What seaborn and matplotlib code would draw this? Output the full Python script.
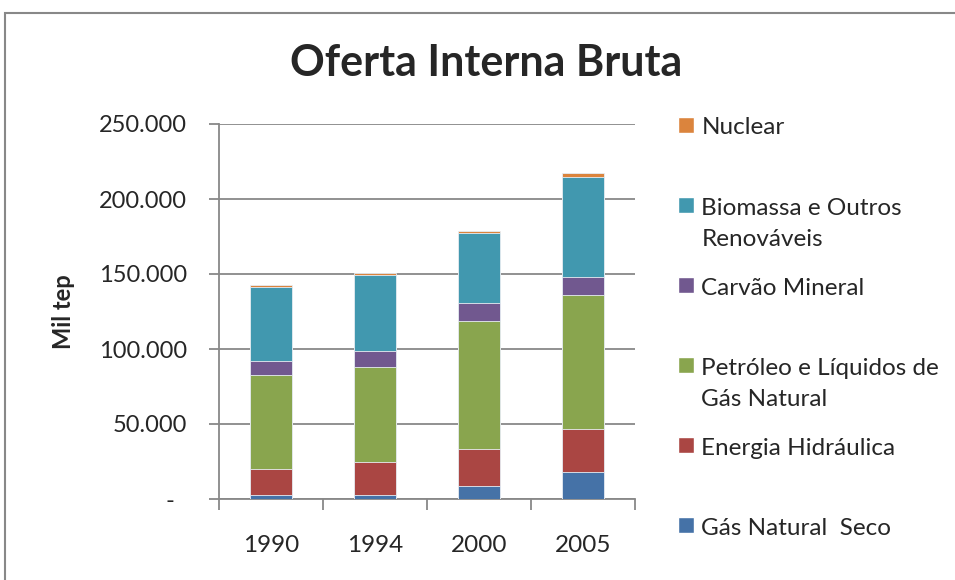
import matplotlib
matplotlib.use("Agg")
import matplotlib.pyplot as plt
import seaborn as sns
from matplotlib.patches import Rectangle, Patch
from matplotlib.legend_handler import HandlerPatch
from matplotlib.ticker import FuncFormatter

# Data (mil tep)
years = ["1990", "1994", "2000", "2005"]
gas_natural_seco = [3000, 3000, 8400, 17700]
energia_hidraulica = [17200, 21400, 25100, 29200]
petroleo_lgn = [62500, 63800, 85200, 89300]
carvao_mineral = [9000, 10400, 12000, 11800]
biomassa = [49600, 50500, 46400, 66400]
nuclear = [1400, 1600, 1600, 2700]

series_names = ["Gás Natural  Seco", "Energia Hidráulica",
                "Petróleo e Líquidos de\nGás Natural", "Carvão Mineral",
                "Biomassa e Outros\nRenováveis", "Nuclear"]
series_values = [gas_natural_seco, energia_hidraulica, petroleo_lgn,
                 carvao_mineral, biomassa, nuclear]
series_colors = ["#4572A7", "#AA4643", "#89A54E", "#71588F", "#4198AF", "#DB843D"]

sns.set_style("white")
plt.rcParams["font.family"] = ["Lato", "DejaVu Sans"]

fig = plt.figure(figsize=(9.55, 5.8), dpi=100)
ax = fig.add_axes([219 / 955, 81 / 580, (635 - 219) / 955, (499 - 124) / 580])

# cumulative totals, drawn from the top layer down so each covers the one above
cum = []
running = [0] * len(years)
for vals in series_values:
    running = [a + b for a, b in zip(running, vals)]
    cum.append(running)

for name, tops, col in reversed(list(zip(series_names, cum, series_colors))):
    sns.barplot(x=years, y=tops, color=col, saturation=1, width=0.4,
                edgecolor="#e8eef4", linewidth=0.6, ax=ax, zorder=3)

grey = "#888888"
ax.set_ylim(0, 250000)
ax.set_xlim(-0.5, 3.5)
ax.set_yticks(range(0, 250001, 50000))
ax.yaxis.set_major_formatter(FuncFormatter(
    lambda v, p: "-  " if v == 0 else f"{v:,.0f}".replace(",", ".")))
ax.yaxis.grid(True, color=grey, lw=1.3)
ax.set_axisbelow(True)
for s in ["top", "right"]:
    ax.spines[s].set_visible(False)
for s in ["left", "bottom"]:
    ax.spines[s].set_color(grey)
    ax.spines[s].set_linewidth(1.3)

ax.tick_params(axis="y", direction="out", length=7, width=1.3, color=grey,
               pad=16, labelsize=17, left=True)
ax.set_xticks([-0.5, 0.5, 1.5, 2.5, 3.5], minor=True)
ax.tick_params(axis="x", which="minor", direction="out", length=8, width=1.3,
               color=grey, bottom=True)
ax.tick_params(axis="x", which="major", length=0, pad=26, labelsize=17.5)
ax.set_xlabel("")
ax.set_ylabel("Mil tep", fontsize=17, fontweight="bold", labelpad=17)

fig.text(0.509, 0.892, "Oferta Interna Bruta", ha="center", va="center",
         fontsize=31, fontweight="bold")


# legend: square marker next to the first line of each label
def top_square(legend, orig_handle, xdescent, ydescent, width, height, fontsize):
    sq = width
    return Rectangle((-xdescent, 19.4 - sq / 2), sq, sq)


handles = [Patch(facecolor=c) for c in reversed(series_colors)]
labels = [lb if "\n" in lb else lb + "\n " for lb in reversed(series_names)]
leg = ax.legend(handles, labels, loc="upper left", bbox_to_anchor=(678 / 955, 1 - 117.5 / 580),
                bbox_transform=fig.transFigure, frameon=False, fontsize=17.5,
                handlelength=0.66, handleheight=2.2, handletextpad=0.3,
                labelspacing=1.13, borderpad=0, borderaxespad=0,
                handler_map={Patch: HandlerPatch(patch_func=top_square)})
for t in leg.get_texts():
    t.set_linespacing(1.62)

# outer chart border
fig.patches.append(Rectangle((5 / 955, -0.1), 1.2, 1.1 - 13 / 580,
                             transform=fig.transFigure, fill=False,
                             edgecolor=grey, lw=1.5))

fig.savefig("out.png", dpi=100)
